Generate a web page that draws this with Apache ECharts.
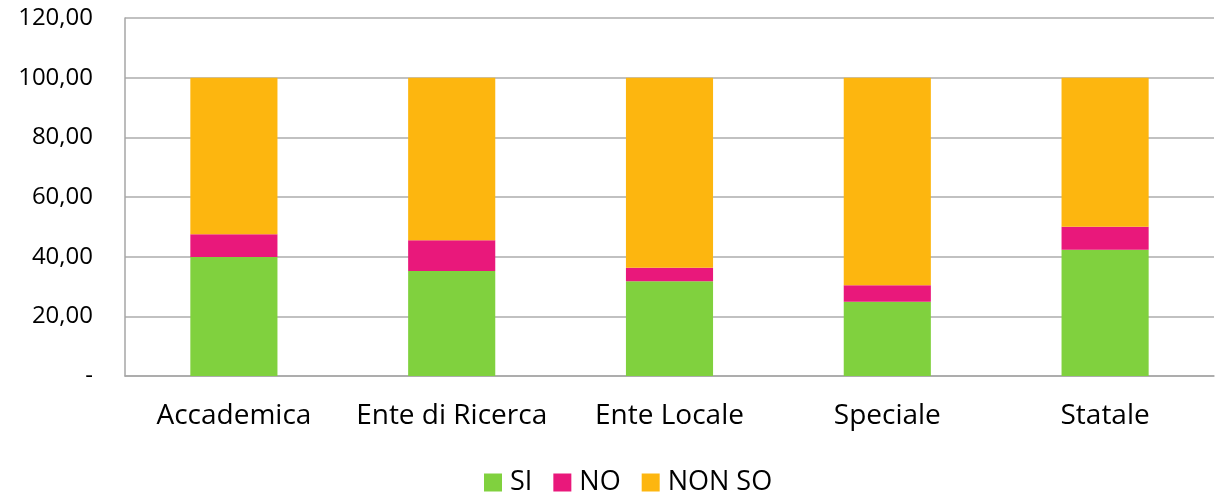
<!DOCTYPE html>
<html><head><meta charset="utf-8">
<script src="https://cdn.jsdelivr.net/npm/echarts@6/dist/echarts.min.js"></script>
<style>html,body{margin:0;padding:0;background:#fff}#c{width:1220px;height:494px}</style>
</head><body><div id="c"></div>
<script>
const categories = ['Accademica', 'Ente di Ricerca', 'Ente Locale', 'Speciale', 'Statale'];
const si = [39.9, 35.2, 31.8, 24.9, 42.3];
const no = [7.6, 10.3, 4.5, 5.5, 7.7];
const nonSo = [52.5, 54.5, 63.7, 69.6, 50.0];
const yTicks = [0, 20, 40, 60, 80, 100, 120];
const yTickLabels = ['-', '20,00', '40,00', '60,00', '80,00', '100,00', '120,00'];

const font = 'Open Sans';
const chart = echarts.init(document.getElementById('c'), null, {renderer: 'canvas'});
chart.setOption({
  animation: false,
  grid: {left: 125, right: 6, top: 18, bottom: 118},
  legend: {
    top: 464, left: 479, itemWidth: 18, itemHeight: 18, itemGap: 21,
    icon: 'rect',
    textStyle: {fontFamily: font, fontSize: 27, color: '#000', padding: [0, 0, 0, 3]},
    data: ['SI', 'NO', 'NON SO']
  },
  xAxis: {
    type: 'category', data: categories,
    axisLine: {lineStyle: {color: '#a6a6a6', width: 1.5}},
    axisTick: {show: false},
    axisLabel: {fontFamily: font, fontSize: 28, color: '#000', margin: 26, interval: 0}
  },
  yAxis: {
    type: 'value', min: 0, max: 120, interval: 20,
    axisLine: {show: true, lineStyle: {color: '#a6a6a6', width: 1.5}},
    axisTick: {show: false},
    splitLine: {lineStyle: {color: '#acacac', width: 1.5}},
    axisLabel: {
      fontFamily: font, fontSize: 24, color: '#000', margin: 32,
      formatter: v => { const i = yTicks.indexOf(v); return i >= 0 ? yTickLabels[i] : ''; }
    }
  },
  series: [
    {name: 'SI', type: 'bar', stack: 't', data: si, barWidth: '40%', itemStyle: {color: '#80D13E'}},
    {name: 'NO', type: 'bar', stack: 't', data: no, barWidth: '40%', itemStyle: {color: '#E9187B'}},
    {name: 'NON SO', type: 'bar', stack: 't', data: nonSo, barWidth: '40%', itemStyle: {color: '#FDB60F'}}
  ]
});
</script></body></html>
